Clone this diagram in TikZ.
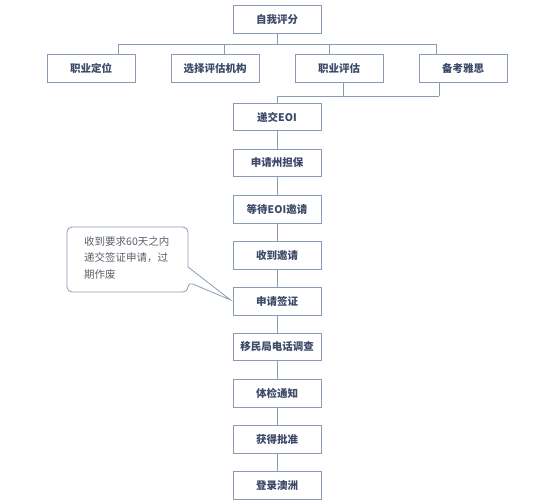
\documentclass[tikz,border=0pt]{standalone}
\usepackage{fontspec}
\newfontfamily\cjk{Noto Sans CJK SC}
\definecolor{edge}{HTML}{8A9CB5}
\definecolor{txt}{HTML}{3C4A68}
\definecolor{note}{HTML}{5A5F68}
\tikzset{
  box/.style={draw=edge, line width=0.9pt, fill=white, minimum width=88pt, minimum height=27.5pt, inner sep=0pt, font=\cjk\bfseries\fontsize{10.5}{12}\selectfont, text=txt},
  link/.style={draw=edge, line width=0.8pt},
  callout/.style={draw=edge, line width=0.8pt, fill=white}
}
\begin{document}
\begin{tikzpicture}[x=1pt,y=-1pt]
\useasboundingbox (0,0) rectangle (554,502);
% top
\node[box] (top) at (277,19.5) {自我评分};
% row 2
\node[box] (r1) at (91,68.5) {职业定位};
\node[box] (r2) at (215,68.5) {选择评估机构};
\node[box] (r3) at (339,68.5) {职业评估};
\node[box] (r4) at (463,68.5) {备考雅思};
% main column
\node[box] (m1) at (277,117) {递交EOI};
\node[box] (m2) at (277,163) {申请州担保};
\node[box] (m3) at (277,209.5) {等待EOI邀请};
\node[box] (m4) at (277,255.5) {收到邀请};
\node[box] (m5) at (277,301.5) {申请签证};
\node[box] (m6) at (277,347) {移民局电话调查};
\node[box] (m7) at (277,393.5) {体检通知};
\node[box] (m8) at (277,439.5) {获得批准};
\node[box] (m9) at (277,485.5) {登录澳洲};
% branch coordinates
\coordinate (hc) at (277,44);
\coordinate (h1) at (118,44);
\coordinate (h2) at (224,44);
\coordinate (h3) at (329,44);
\coordinate (h4) at (436,44);
\coordinate (d3) at (343,96);
\coordinate (d4) at (439,96);
\coordinate (dc) at (277,96);
\draw[link] (top.south) -- (hc);
\draw[link] (h1) -- (h4);
\draw[link] (h1) -- (h1 |- r1.north);
\draw[link] (h2) -- (h2 |- r2.north);
\draw[link] (h3) -- (h3 |- r3.north);
\draw[link] (h4) -- (h4 |- r4.north);
\draw[link] (d3 |- r3.south) -- (d3);
\draw[link] (d4 |- r4.south) -- (d4);
\draw[link] (dc) -- (d4);
\draw[link] (dc) -- (m1.north);
\draw[link] (m1) -- (m2);
\draw[link] (m2) -- (m3);
\draw[link] (m3) -- (m4);
\draw[link] (m4) -- (m5);
\draw[link] (m5) -- (m6);
\draw[link] (m6) -- (m7);
\draw[link] (m7) -- (m8);
\draw[link] (m8) -- (m9);
% callout
\coordinate (tip) at ([shift={(-2,-1.5)}]m5.west);
\draw[callout] (188,267) [rounded corners=5pt] -- (188,227) -- (67,227) -- (67,292) -- (188,292) -- (188,282) [sharp corners] -- (tip) -- cycle;
\node[anchor=north west, align=left, inner sep=0pt, text=note, font=\cjk\fontsize{10.5}{16.5}\selectfont] (cn) at (84,236) {收到要求60天之内\\递交签证申请，过\\期作废};
\end{tikzpicture}
\end{document}
